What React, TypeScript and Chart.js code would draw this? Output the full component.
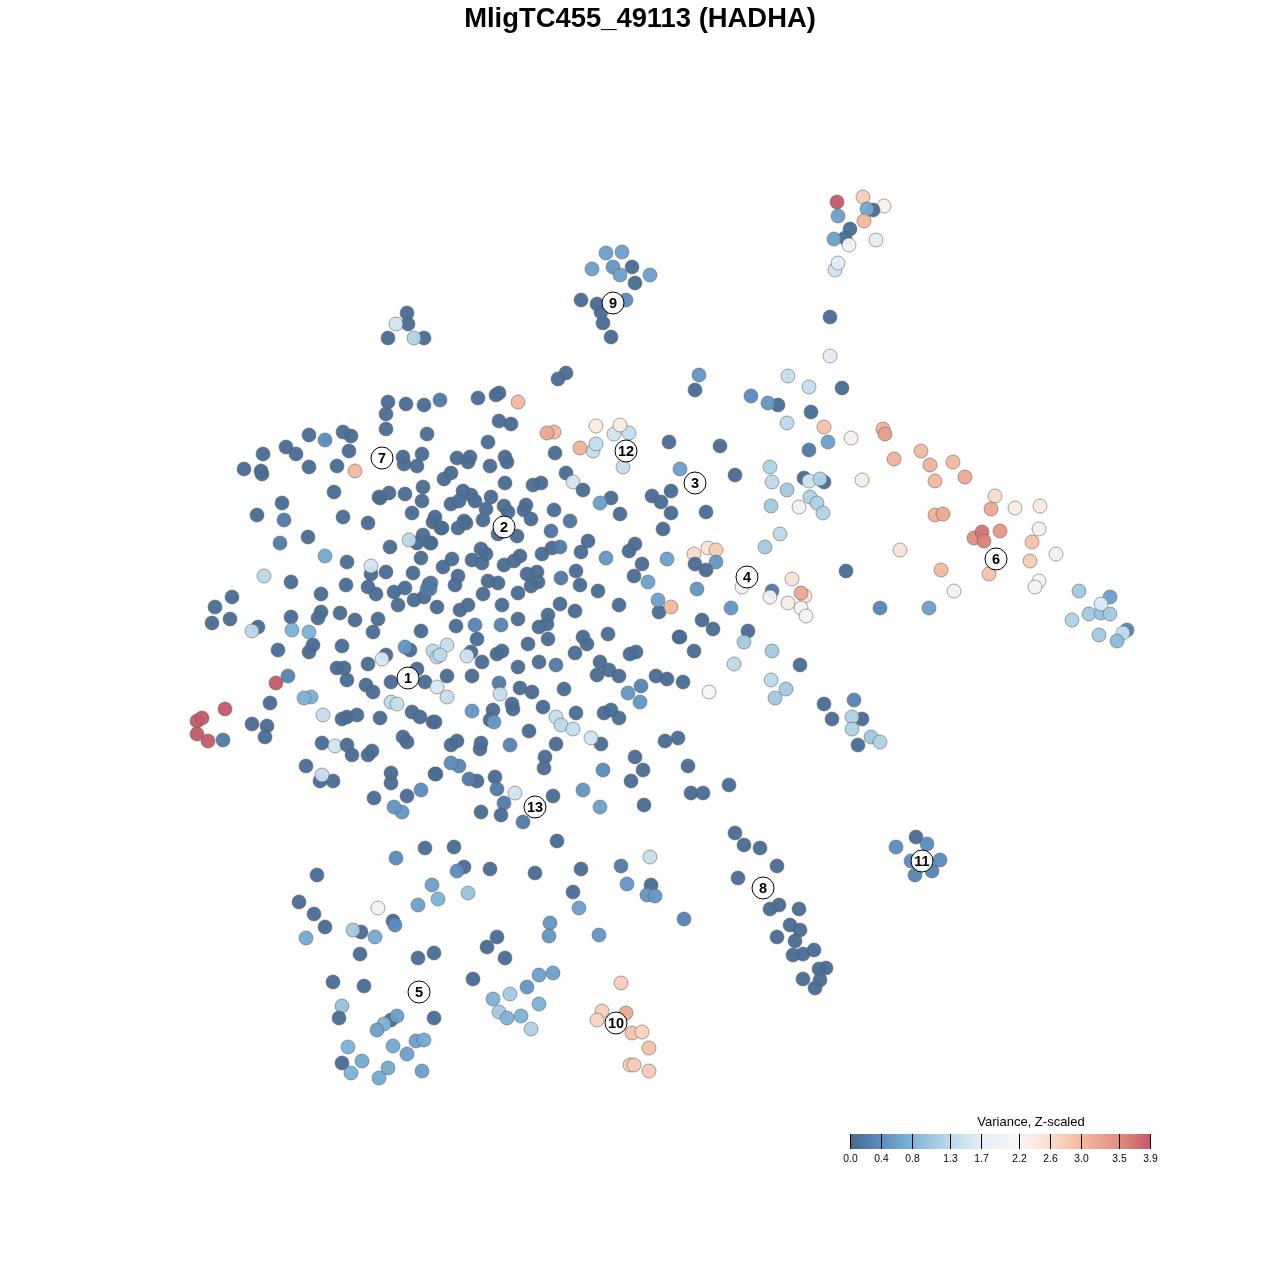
import React, { useEffect, useRef } from "react";
import { Chart, registerables } from "chart.js";

Chart.register(...registerables);

const chartTitle = "MligTC455_49113 (HADHA)";
const legendTitle = "Variance, Z-scaled";
const legendTicks = [0.0, 0.4, 0.8, 1.3, 1.7, 2.2, 2.6, 3.0, 3.5, 3.9];
const legendColors = ["#486890", "#5b8dbf", "#7db3d6", "#bcdae9", "#e3edf4", "#f8f7f6", "#fbdccd", "#f5b9a0", "#e08f80", "#c55a6a"];

const clusterNames = ["1", "2", "3", "4", "5", "6", "7", "8", "9", "10", "11", "12", "13"];
const clusterX = [408, 504, 695, 747, 419, 996, 382, 763, 613, 616, 922, 626, 535];
const clusterY = [678, 527, 483, 577, 992, 559, 458, 888, 303, 1023, 861, 451, 807];

// [x, y, variance]
const northWest = [
  [388,402,.05],[406,404,.05],[424,405,.05],[440,400,.2],[386,414,.05],[386,429,.05],[427,434,.05],[309,435,.05],[325,440,.4],[351,436,.05],[343,432,.05],
  [349,451,.05],[286,447,.05],[296,454,.05],[263,454,.05],[244,469,.05],[262,474,.05],[261,471,.05],[309,467,.05],[337,466,.05],[355,471,3.0],
  [404,464,.05],[403,457,.05],[422,454,.05],[417,466,.05],[334,492,.05],[389,493,.05],[380,498,.05],[379,497,.05],[405,494,.05],[423,487,.05],[422,501,.05],[412,513,.05],
  [282,503,.05],[257,515,.05],[284,520,.2],[343,517,.05],[368,523,.05],[308,537,.05],[280,543,.2],[390,547,.05],[423,535,.05],[417,543,.05],[431,543,.05],[409,540,1.3],
  [433,522,.05],[435,517,.05],[441,528,.05],[325,556,.7],[347,562,.05],[421,558,.05],[371,574,.05],[371,566,1.5],[386,572,.05],[413,573,.05],
  [264,576,1.3],[291,582,.05],[346,585,.05],[368,587,.05],[376,594,.05],[321,594,.05],[394,592,.05],[405,588,.05],[429,584,.05],[424,597,.05],[427,589,.3],[414,600,.05],[398,605,.05],[437,607,.05],
  [232,597,.05],[215,607,.05],[230,619,.05],[212,623,.05],[291,617,.05],[321,612,.05],[318,618,.05],[340,613,.05],[355,620,.05],[378,619,.05],
];
const southWest = [
  [258,627,.05],[252,631,1.3],[292,630,.8],[309,632,.8],[373,632,.05],[421,631,.05],[278,650,.05],[309,652,.05],[313,645,.05],[342,646,.05],[386,655,.05],[382,659,1.6],
  [410,650,.05],[405,647,.5],[433,651,1.3],[437,657,1.3],[368,664,.05],[337,668,.05],[344,668,.05],[347,680,.05],[366,685,.05],[373,692,.05],[391,682,.05],[417,669,.05],[425,682,.05],[437,687,1.6],
  [288,676,.3],[276,683,3.9],[311,697,.8],[304,698,.8],[270,703,.05],[391,702,1.3],[397,704,1.4],[412,712,.05],[420,717,.05],[433,722,.05],
  [225,709,3.9],[197,721,3.9],[202,718,3.9],[197,734,3.9],[208,741,3.9],[223,740,.2],[252,724,.05],[267,726,.05],[265,737,.05],
  [323,715,1.4],[347,717,.05],[342,719,.05],[357,715,.05],[380,718,.05],[322,743,.05],[335,746,1.5],[347,745,.05],[352,755,.05],[368,755,.05],[372,751,.05],[403,737,.05],[407,742,.05],
  [306,766,.05],[320,781,.05],[333,781,.05],[322,775,1.4],[391,783,.05],[391,773,.05],[435,774,.05],[421,790,.4],[407,796,.05],[374,798,.05],[402,812,.5],[394,807,.5],
];
const northCentre = [
  [478,398,.05],[496,395,.05],[499,393,.05],[518,402,3.0],[566,373,.05],[558,379,.05],[499,421,.05],[511,424,.05],[554,432,3.0],[547,433,3.2],[629,433,1.4],[614,434,1.5],[596,426,2.4],[620,425,2.4],
  [488,442,.05],[593,451,1.4],[596,444,1.4],[580,448,3.1],[555,453,.05],[669,442,.05],[457,458,.05],[468,462,.05],[470,457,.05],[490,466,.05],[507,462,.05],[505,457,.05],
  [623,467,1.4],[566,473,.05],[680,469,.6],[444,479,.05],[451,473,.05],[505,483,.05],[573,482,1.5],[533,485,.05],[541,483,.05],[583,490,.05],
  [471,495,.05],[463,491,.05],[451,504,.05],[459,501,.05],[475,501,.05],[491,497,.05],[486,509,.05],[504,506,.05],[508,512,.05],[526,505,.05],[524,510,.05],[531,519,.05],[554,510,.05],[570,521,.15],
  [611,498,.05],[600,503,.6],[620,514,.05],[652,496,.05],[661,502,.05],[671,491,.05],[671,513,.05],[663,529,.05],[442,528,.05],[458,528,.05],[466,523,.05],[464,521,.05],[483,520,.05],[498,534,.05],[517,536,.05],[551,531,.15],
  [430,543,.05],[486,554,.05],[481,549,.05],[472,560,.05],[482,563,.05],[452,559,.05],[443,567,.05],[520,556,.05],[514,561,.05],[504,565,.05],[542,554,.05],[552,548,.05],[560,547,.2],[581,552,.05],[588,541,.05],[635,544,.05],[629,551,.05],[606,558,.5],[642,564,.05],[667,559,.6],
  [537,572,.05],[527,574,.05],[538,582,.05],[531,586,.05],[458,576,.05],[455,585,.05],[498,583,.05],[488,581,.05],[483,594,.05],[518,593,.05],[561,578,.2],[576,571,.05],[580,585,.05],[598,591,.05],[634,576,.05],[648,582,.6],
  [659,612,.05],[658,600,.6],[671,607,3.0],[431,583,.2],[430,589,.2],[460,610,.05],[468,605,.05],[502,605,.05],[560,604,.05],[575,611,.05],[548,615,.05],[619,605,.05],
];
const southCentre = [
  [456,626,.05],[475,625,.3],[501,625,.3],[518,619,.05],[547,624,.05],[539,627,.05],[477,639,.05],[528,644,.05],[548,639,.05],[587,644,.05],[583,637,.05],[608,634,.05],[575,653,.05],[679,637,.05],
  [447,645,1.4],[440,655,1.3],[471,652,.05],[467,656,1.5],[482,662,.05],[497,654,.05],[502,651,.05],[518,667,.05],[539,662,.05],[556,665,.2],[600,662,.05],[609,670,.05],[597,675,.05],[619,676,.05],[636,652,.05],[630,654,.05],
  [447,676,.05],[472,676,.05],[447,697,1.4],[499,683,.2],[500,694,1.4],[520,688,.05],[532,692,.05],[564,689,.05],[656,676,.05],[667,679,.05],[683,682,.05],[641,686,.3],[628,693,.5],[640,702,.5],
  [472,711,.5],[493,710,.05],[490,720,.05],[494,722,.5],[513,709,.05],[512,704,.05],[543,707,.05],[556,717,1.4],[561,725,1.3],[573,729,1.4],[576,713,.05],[604,713,.05],[611,710,.05],[619,718,.05],
  [529,731,.05],[601,744,.05],[591,738,1.5],[556,744,.05],[665,741,.05],[678,738,.05],[451,745,.05],[457,741,.05],[480,749,.05],[481,743,.05],[510,745,.3],
  [435,722,.05],[545,757,.05],[544,768,.05],[635,757,.05],[643,770,.05],[631,781,.05],[603,770,.4],[436,774,.05],[459,766,.3],[451,763,.4],[477,781,.05],[469,779,.2],[495,777,.05],[497,789,.2],[515,793,1.5],[553,796,.05],[583,790,.5],[504,803,.2],[600,807,.6],[644,805,.05],
  [481,812,.05],[501,815,.05],[523,822,.2],
];
const topGroups = [
  [837,202,3.9],[863,197,2.8],[884,206,2.3],[838,216,.6],[873,210,.05],[867,209,.7],[864,221,3.0],[850,229,.05],[845,238,.05],[834,239,.6],[849,245,2.0],[876,240,1.7],[835,270,1.5],[838,263,1.7],
  [606,253,.6],[622,252,.6],[592,269,.6],[632,267,.05],[613,267,.5],[620,275,.6],[650,275,.6],[635,283,.05],[581,300,.05],[597,304,.05],[626,300,.4],[601,312,.05],[603,323,.05],[611,337,.05],
  [407,313,.05],[408,324,.05],[396,324,1.5],[388,338,.05],[424,338,.05],[414,338,1.2],
];
const eastGroups = [
  [830,317,.05],[830,356,1.7],[699,375,.5],[695,390,.05],[788,376,1.4],[809,387,1.4],[842,388,.05],[751,396,.4],[778,405,.05],[768,403,.5],[811,412,.05],[787,423,1.3],[824,427,2.9],[828,442,.6],[851,438,2.3],[883,429,3.1],[885,434,3.3],[809,450,.2],[720,446,.05],
  [894,459,3.1],[921,451,3.0],[930,465,3.1],[953,462,3.0],[965,477,3.2],[935,481,3.0],[862,480,2.4],[770,467,1.2],[772,482,1.3],[787,490,1.1],[804,478,.05],[824,482,.05],[809,481,1.5],[820,479,1.2],[810,497,1.2],[817,503,1.2],[799,507,2.0],[823,513,1.2],[771,506,1.1],[735,475,.05],[706,512,.05],
  [995,496,2.6],[1015,508,2.4],[1040,506,2.4],[991,509,3.2],[935,515,3.1],[943,514,3.2],[1039,529,2.3],[974,538,3.5],[982,532,3.7],[984,541,3.6],[1000,531,3.4],[1032,542,2.9],[1056,554,2.3],[1030,561,2.8],[900,550,2.5],[941,570,3.0],[989,574,2.9],[1039,581,2.1],[1035,587,2.1],[954,591,2.0],[846,571,.05],[880,608,.3],[929,608,.6],
  [780,534,1.3],[765,547,1.1],[694,554,2.6],[708,548,2.5],[716,550,2.8],[716,562,.5],[695,564,.05],[706,570,.05],[772,591,.2],[742,587,2.0],[792,579,2.5],[770,597,2.0],[805,596,2.5],[801,593,3.2],[788,603,2.4],[801,608,2.1],[806,616,2.0],[731,608,.5],[697,589,.5],[702,620,.05],[713,629,.05],[680,637,.05],[694,651,.05],[748,631,.05],[744,642,1.1],[772,651,1.1],[734,664,1.3],[800,665,.05],[771,680,1.3],[786,689,1.1],[775,698,1.1],[709,692,2.1],
  [824,704,.05],[854,700,.3],[832,719,.05],[862,719,.05],[852,717,1.2],[852,729,1.2],[871,737,1.1],[880,742,1.2],[858,745,.05],
  [1079,591,1.1],[1110,597,.6],[1089,614,1.1],[1101,613,1.0],[1110,614,1.1],[1101,604,1.6],[1072,620,1.2],[1127,630,.3],[1123,633,1.4],[1099,635,1.1],[1117,641,.9],
  [729,785,.05],[688,766,.05],[691,793,.05],[703,793,.05],
];
const southGroups = [
  [735,833,.05],[744,845,.05],[760,848,.05],[777,866,.05],[738,878,.05],[779,905,.05],[770,909,.05],[799,909,.05],[790,925,.05],[800,930,.05],[795,941,.05],[777,937,.05],[793,955,.05],[803,954,.05],[814,950,.05],[826,968,.05],[819,969,.05],[803,979,.05],[820,980,.05],[815,988,.05],
  [916,837,.05],[927,844,.4],[896,847,.4],[911,861,.4],[940,860,.4],[915,875,.3],[932,871,.3],
  [557,841,.05],[425,848,.05],[454,847,.05],[396,858,.4],[464,867,.05],[490,869,.05],[457,871,.4],[535,873,.05],[581,869,.05],[621,866,.2],[650,857,1.4],[317,875,.05],[432,885,.6],[627,884,.5],[651,885,.05],[573,892,.05],[647,895,.5],[655,896,.5],[468,893,1.0],[438,899,.8],[418,905,.6],[299,902,.05],[378,908,2.0],[579,908,.6],[314,914,.05],[393,921,.05],[395,925,.4],[325,927,.05],[550,923,.5],[684,919,.3],[361,932,.05],[353,930,1.1],[375,937,.7],[306,938,.7],[599,935,.5],[549,936,.5],[497,937,.05],[487,947,.05],[360,954,.05],[434,953,.05],[418,958,.05],[505,958,.05],
  [539,975,.6],[553,973,.6],[473,979,.05],[527,987,.5],[333,982,.05],[364,986,.05],[510,994,1.1],[493,999,.8],[539,1004,.8],[342,1006,1.0],[499,1012,1.1],[507,1018,.8],[521,1016,.8],[531,1029,1.2],[339,1018,.05],[434,1018,.05],[391,1020,.05],[397,1016,.6],[384,1024,.8],[377,1030,.6],[393,1046,.7],[416,1041,.6],[424,1040,.7],[348,1047,.8],[407,1054,.6],[362,1061,.7],[342,1063,.05],[351,1073,.8],[388,1068,.7],[422,1071,.6],[379,1078,.7],
  [621,983,2.8],[602,1011,2.8],[626,1013,3.2],[597,1020,2.7],[632,1033,2.9],[642,1032,2.7],[649,1048,2.9],[630,1065,2.8],[634,1065,2.8],[649,1071,2.8],
];
const specks = [[570.5, 640]];

const allPoints = [...northWest, ...southWest, ...northCentre, ...southCentre, ...topGroups, ...eastGroups, ...southGroups];

function rgbOf(hex: string) {
  return [1, 3, 5].map((i) => parseInt(hex.slice(i, i + 2), 16));
}
function colorOf(z: number, alpha: number) {
  let i = 0;
  while (i < legendTicks.length - 2 && z > legendTicks[i + 1]) i++;
  const t = Math.max(0, Math.min(1, (z - legendTicks[i]) / (legendTicks[i + 1] - legendTicks[i])));
  const a = rgbOf(legendColors[i]);
  const b = rgbOf(legendColors[i + 1]);
  const c = a.map((v, k) => Math.round(v + (b[k] - v) * t));
  return `rgba(${c[0]},${c[1]},${c[2]},${alpha})`;
}

const FONT = '"Liberation Sans", Arial, sans-serif';
const TITLE_BOX = 3 + 27.4 * 1.2;

const annotations = {
  id: "annotations",
  afterDatasetsDraw(chart: any) {
    const { ctx, scales } = chart;
    ctx.save();
    ctx.fillStyle = "#000";
    ctx.textAlign = "center";
    ctx.textBaseline = "middle";
    ctx.font = `bold 14.5px ${FONT}`;
    clusterNames.forEach((name, i) => {
      ctx.fillText(name, scales.x.getPixelForValue(clusterX[i]), scales.y.getPixelForValue(clusterY[i]) + 0.5);
    });

    // colour bar
    const left = 850, right = 1150, top = 1134, bottom = 1149;
    const maxTick = legendTicks[legendTicks.length - 1];
    const px = (v: number) => left + ((right - left) * v) / maxTick;
    const grad = ctx.createLinearGradient(left, 0, right, 0);
    legendTicks.forEach((v, i) => grad.addColorStop(v / maxTick, legendColors[i]));
    ctx.fillStyle = grad;
    ctx.fillRect(left, top, right - left, bottom - top);
    ctx.strokeStyle = "#000";
    ctx.lineWidth = 1;
    ctx.font = `10.3px ${FONT}`;
    ctx.fillStyle = "#000";
    legendTicks.forEach((v) => {
      const x = Math.round(px(v)) + 0.5;
      ctx.beginPath();
      ctx.moveTo(x, top);
      ctx.lineTo(x, bottom);
      ctx.stroke();
      ctx.fillText(v.toFixed(1), x, 1159.5);
    });
    ctx.font = `13px ${FONT}`;
    ctx.fillText(legendTitle, 1031, 1122.5);
    ctx.restore();
  },
};

export default function App() {
  const ref = useRef<HTMLCanvasElement>(null);
  useEffect(() => {
    const chart = new Chart(ref.current!, {
      type: "scatter",
      data: {
        datasets: [
          {
            label: "Clusters",
            order: 0,
            data: clusterX.map((x, i) => ({ x, y: clusterY[i] })),
            backgroundColor: "rgba(255,255,255,0.92)",
            borderColor: "#000",
            borderWidth: 1,
            pointRadius: 11,
          },
          {
            label: "Speck",
            order: 1,
            data: specks.map((p) => ({ x: p[0], y: p[1] })),
            backgroundColor: "#4a6a92",
            borderWidth: 0,
            pointRadius: 0.5,
          },
          {
            label: "Cells",
            order: 2,
            data: allPoints.map((p) => ({ x: p[0], y: p[1] })),
            backgroundColor: allPoints.map((p) => colorOf(p[2], 0.96)),
            borderColor: "rgba(95,95,95,0.55)",
            borderWidth: 1,
            pointRadius: 7,
          },
        ],
      },
      options: {
        animation: false,
        responsive: false,
        devicePixelRatio: 1,
        layout: { padding: 0, autoPadding: false },
        plugins: {
          legend: { display: false },
          tooltip: { enabled: false },
          title: {
            display: true,
            text: chartTitle,
            color: "#000",
            font: { family: FONT, size: 27.4, weight: "bold", lineHeight: 1.2 },
            padding: { top: 3, bottom: 0 },
          },
        },
        scales: {
          x: { type: "linear", display: false, min: 0, max: 1280 },
          y: { type: "linear", display: false, min: TITLE_BOX, max: 1280, reverse: true },
        },
      },
      plugins: [annotations],
    } as any);
    return () => chart.destroy();
  }, []);
  return (
    <canvas
      ref={ref}
      width={1280}
      height={1280}
      style={{ position: "absolute", left: 0, top: 0, width: 1280, height: 1280, display: "block" }}
    />
  );
}
